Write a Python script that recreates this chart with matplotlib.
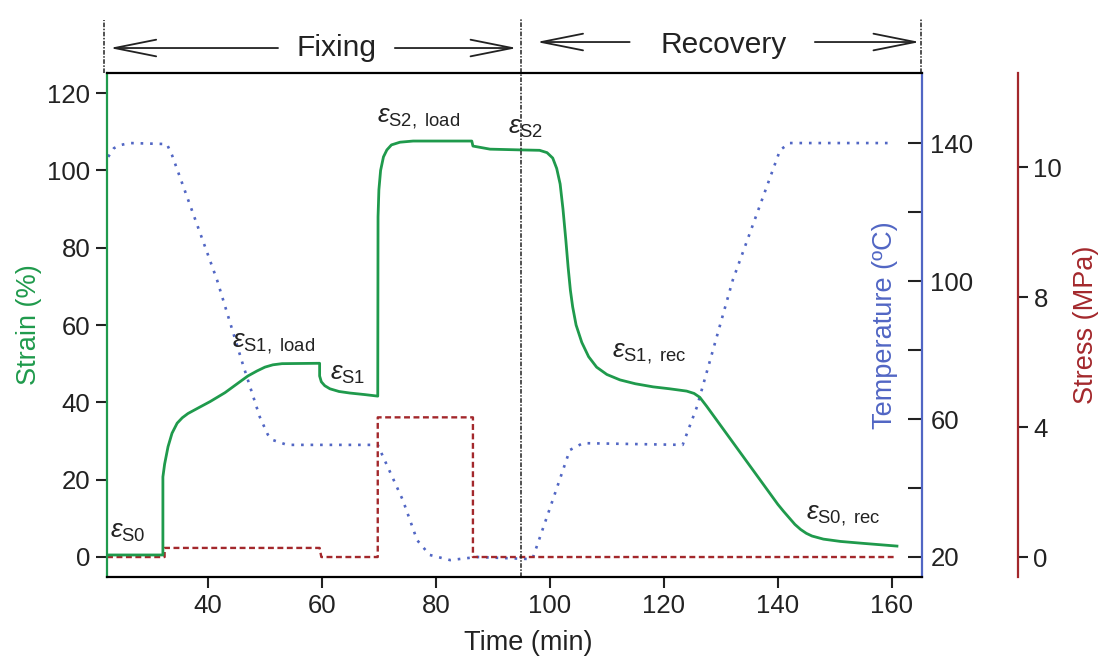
import matplotlib
matplotlib.use('Agg')
import matplotlib.pyplot as plt
from matplotlib.ticker import FixedLocator, FixedFormatter

plt.rcParams['font.family'] = 'Liberation Sans'
plt.rcParams['mathtext.fontset'] = 'custom'
plt.rcParams['mathtext.rm'] = 'Liberation Sans'
plt.rcParams['mathtext.it'] = 'Liberation Sans:italic'

# strain (%) vs time (min)
strain_t = [22.3, 32.1, 32.1, 32.4, 33.0, 33.7, 34.6, 35.5, 36.5, 38.5, 40.4, 43.0, 45.6,
            47.0, 48.6, 50.0, 51.4, 53.0, 59.6, 59.6, 59.9, 60.5, 61.4, 63.0, 64.9, 67.5,
            69.8, 69.85, 70.0, 70.3, 70.8, 71.4, 72.2, 73.7, 76.0, 86.3, 86.5, 89.5, 95.0,
            98.2, 99.5, 100.5, 101.2, 101.8, 102.3, 102.8, 103.2, 103.6, 104.0, 104.6,
            105.6, 106.8, 108.2, 110.0, 112.3, 115.0, 118.1, 121.0, 124.0, 125.3, 126.3,
            127.5, 140.0, 141.0, 142.0, 143.0, 144.0, 145.0, 146.0, 148.0, 151.0, 155.0,
            160.9]
strain_v = [0.5, 0.5, 20.7, 24.0, 28.5, 32.0, 34.6, 36.0, 37.1, 38.7, 40.2, 42.5, 45.3,
            46.8, 48.1, 49.1, 49.7, 50.0, 50.1, 46.8, 45.3, 44.3, 43.5, 42.8, 42.4, 42.0,
            41.6, 88.0, 95.0, 100.0, 103.5, 105.3, 106.6, 107.3, 107.6, 107.6, 106.3, 105.5, 105.3,
            105.2, 104.6, 103.2, 100.5, 96.5, 90.0, 82.0, 75.0, 69.0, 64.7, 60.0,
            55.5, 51.8, 49.1, 47.2, 45.8, 44.8, 44.0, 43.5, 42.9, 42.3, 41.3,
            39.0, 13.6, 11.8, 10.1, 8.4, 7.1, 6.1, 5.4, 4.6, 4.0, 3.5,
            2.8]

# temperature (C) vs time (min)
temp_t = [22.5, 23.5, 24.6, 26.3, 32.8, 33.7, 41.6, 46.1, 49.1, 50.5, 51.4, 53.9, 69.8,
          70.2, 74.2, 76.7, 78.9, 82.5, 87.2, 96.5, 97.0, 100.5, 103.5, 105.8, 123.3,
          125.8, 132.1, 140.4, 142.1, 160.2]
temp_v = [136, 138.5, 139.4, 140, 139.7, 136.5, 100.3, 76, 60.6, 55.5, 53.9, 52.5, 52.5,
          51, 36.5, 24.9, 20.6, 19.1, 20, 19.4, 19.7, 36.5, 51, 53, 52.5,
          63.5, 100.3, 138, 140, 140]

# stress (MPa) vs time (min)
stress_t = [22.3, 32.4, 32.4, 59.6, 59.9, 69.8, 69.8, 86.5, 86.5, 160.5]
stress_v = [0, 0, 0.28, 0.28, 0, 0, 4.3, 4.3, 0, 0]

x_ticks = [40, 60, 80, 100, 120, 140, 160]
strain_ticks = [0, 20, 40, 60, 80, 100, 120]
temp_ticks = [20, 40, 60, 80, 100, 120, 140]
temp_labels = ['20', '', '60', '', '100', '', '140']
stress_ticks = [0, 4, 8, 12]
stress_labels = ['0', '4', '8', '10']

green = '#1f9a4c'
blue = '#5166c4'
red = '#a3282c'
ink = '#222222'

fig = plt.figure(figsize=(11.07, 6.62), dpi=100)
ax = fig.add_axes([0.0967, 0.1284, 0.7362, 0.7613])
ax_t = ax.twinx()
ax_s = ax.twinx()
ax.set_zorder(3)
ax.patch.set_visible(False)

ax_t.plot(temp_t, temp_v, color=blue, lw=1.9, linestyle=(0, (1, 2.6)))
ax_s.plot(stress_t, stress_v, color=red, lw=1.7, linestyle=(0, (2.5, 1.5)))
ax.plot(strain_t, strain_v, color=green, lw=2.0)

ax.set_xlim(22.3, 165.3)
ax.set_ylim(-5.2, 125.2)
ax_t.set_ylim(14.2, 160.3)
ax_s.set_ylim(-0.615, 14.9)

# spines
for s in ['top', 'left', 'bottom', 'right']:
    ax.spines[s].set_linewidth(1.6)
    ax_t.spines[s].set_visible(False)
    ax_s.spines[s].set_visible(False)
ax.spines['right'].set_visible(False)
ax.spines['left'].set_color(green)
ax_t.spines['right'].set_visible(True)
ax_t.spines['right'].set_color(blue)
ax_t.spines['right'].set_linewidth(1.6)
ax_s.spines['right'].set_visible(True)
ax_s.spines['right'].set_position(('axes', 1.118))
ax_s.spines['right'].set_color(red)
ax_s.spines['right'].set_linewidth(1.6)

fs = 18.5
ax.set_xticks(x_ticks)
ax.set_yticks(strain_ticks)
ax.tick_params(axis='both', direction='out', length=8, width=1.5, labelsize=fs,
               colors=ink, pad=4)
ax_t.yaxis.set_major_locator(FixedLocator(temp_ticks))
ax_t.yaxis.set_major_formatter(FixedFormatter(temp_labels))
ax_t.tick_params(axis='y', direction='in', length=10, width=1.5, labelsize=fs,
                 colors=ink, pad=6)
ax_s.yaxis.set_major_locator(FixedLocator(stress_ticks))
ax_s.yaxis.set_major_formatter(FixedFormatter(stress_labels))
ax_s.tick_params(axis='y', direction='out', length=7, width=1.5, labelsize=fs,
                 colors=ink, pad=4)

ax.set_xlabel('Time (min)', fontsize=19.5, color=ink)
ax.xaxis.set_label_coords(0.517, -0.105)
ax.set_ylabel('Strain (%)', fontsize=19.5, color=green, labelpad=4)
ax_s.set_ylabel('Stress (MPa)', fontsize=19.5, color=red, labelpad=8)
ax.text(0.955, 0.5, 'Temperature (ºC)', transform=ax.transAxes, rotation=90,
        ha='center', va='center', fontsize=19.5, color=blue)

# phase separators
dd = (0, (3, 1, 1, 1))
ax.axvline(95, ymin=0, ymax=1.11, color=ink, lw=1.1, linestyle=dd, clip_on=False)
ax.axvline(21.8, ymin=1.0, ymax=1.105, color=ink, lw=1.1, linestyle=dd, clip_on=False)
ax.axvline(165.2, ymin=1.0, ymax=1.11, color=ink, lw=1.1, linestyle=dd, clip_on=False)

arrow = dict(arrowstyle='->,head_length=3,head_width=0.6', lw=1.3, color=ink,
             shrinkA=0, shrinkB=0)
tc = ('data', 'axes fraction')
for tip, start, yy in [(22.8, 52.3, 1.0496), (94.2, 72.8, 1.0496),
                       (97.7, 114.0, 1.0615), (164.9, 146.5, 1.0615)]:
    ax.annotate('', xy=(tip, yy), xytext=(start, yy), xycoords=tc, textcoords=tc,
                arrowprops=arrow, annotation_clip=False)
ax.text(62.5, 1.0496, 'Fixing', transform=ax.get_xaxis_transform(), ha='center',
        va='center', fontsize=21.5, color=ink)
ax.text(130.5, 1.055, 'Recovery', transform=ax.get_xaxis_transform(), ha='center',
        va='center', fontsize=21.5, color=ink)

# strain labels
labels = [(22.8, 4.9, r'$\varepsilon_{\mathrm{S0}}$'),
          (44.2, 54.3, r'$\varepsilon_{\mathrm{S1,\ load}}$'),
          (61.4, 45.8, r'$\varepsilon_{\mathrm{S1}}$'),
          (69.6, 112.5, r'$\varepsilon_{\mathrm{S2,\ load}}$'),
          (92.6, 109.6, r'$\varepsilon_{\mathrm{S2}}$'),
          (110.9, 51.7, r'$\varepsilon_{\mathrm{S1,\ rec}}$'),
          (144.9, 9.6, r'$\varepsilon_{\mathrm{S0,\ rec}}$')]
for x, y, s in labels:
    ax.text(x, y, s, ha='left', va='baseline', fontsize=19, color=ink)

fig.savefig('out.png', dpi=100)
